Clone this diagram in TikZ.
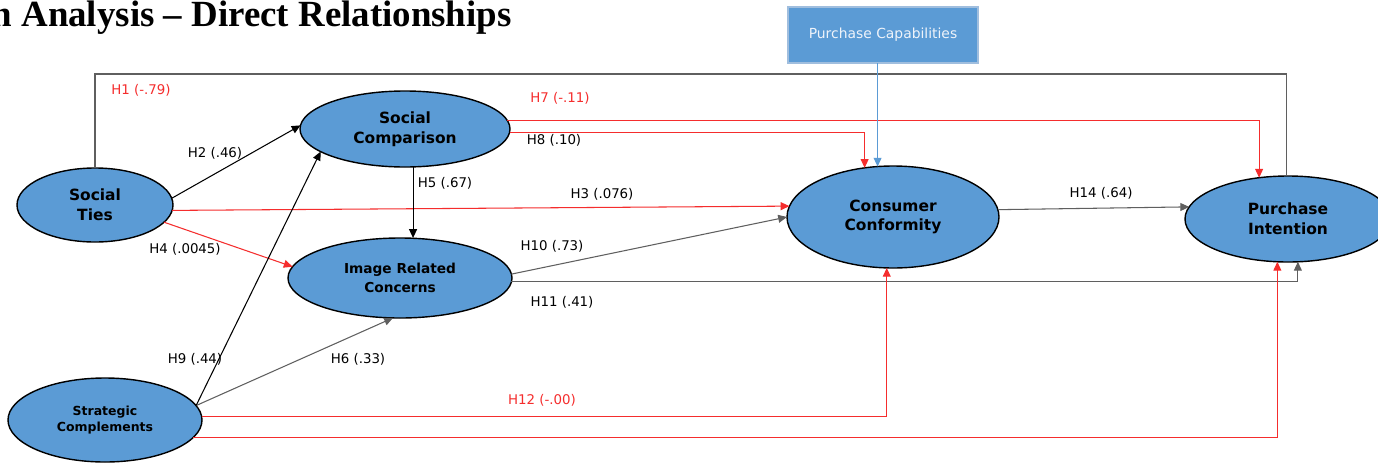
\documentclass[tikz,border=0pt]{standalone}
\usepackage{fontspec}
\setmainfont{Liberation Serif}
\newfontfamily\lblfont{DejaVu Sans}
\usetikzlibrary{arrows.meta,shapes.geometric,calc}
\definecolor{nodeblue}{RGB}{91,155,213}
\definecolor{linered}{RGB}{245,45,45}
\definecolor{linegray}{RGB}{95,95,95}
\definecolor{boxedge}{RGB}{160,190,222}
\definecolor{boxtext}{RGB}{238,243,250}

\begin{document}
\begin{tikzpicture}[x=0.02cm,y=-0.02cm,
  construct/.style={ellipse, draw=black, line width=0.8pt, fill=nodeblue,
    inner sep=0pt, outer sep=0pt, align=center,
    font=\lblfont\bfseries\fontsize{8.8}{11.3}\selectfont},
  capbox/.style={rectangle, draw=boxedge, line width=0.8pt, fill=nodeblue,
    inner sep=0pt, outer sep=0pt, text=boxtext,
    font=\lblfont\fontsize{7.9}{9}\selectfont},
  pathlbl/.style={inner sep=0pt, font=\lblfont\fontsize{7.6}{9}\selectfont},
  redlbl/.style={pathlbl, text=linered},
  tip/.style={-{Triangle[length=5pt,width=4.5pt]}},
  posline/.style={tip, draw=linegray, line width=0.6pt},
  darkline/.style={tip, draw=black, line width=0.6pt},
  negline/.style={draw=linered, line width=0.6pt,
    -{Triangle[length=5pt,width=4.5pt,fill=linered]}},
  railline/.style={draw=linegray, line width=0.6pt},
  capline/.style={draw=nodeblue, line width=0.6pt,
    -{Triangle[length=5pt,width=4.5pt,fill=nodeblue]}}
]
\useasboundingbox (0,0) rectangle (1378,463);
\fill[white] (0,0) rectangle (1378,463);

% heading
\node[anchor=base east, inner sep=0pt,
  font=\bfseries\fontsize{21}{24}\selectfont] (title) at (512,27)
  {n Analysis -- Direct Relationships};

% constructs
\node[construct, minimum width=156*0.02cm, minimum height=74*0.02cm]
  (st) at (95,205) {Social\\Ties};
\node[construct, minimum width=210*0.02cm, minimum height=76*0.02cm]
  (sc) at (405,129) {Social\\Comparison};
\node[construct, minimum width=224*0.02cm, minimum height=80*0.02cm,
  font=\lblfont\bfseries\fontsize{7.8}{11}\selectfont]
  (irc) at (400,278) {Image Related\\Concerns};
\node[construct, minimum width=212*0.02cm, minimum height=102*0.02cm]
  (cc) at (893,217) {Consumer\\Conformity};
\node[construct, minimum width=206*0.02cm, minimum height=86*0.02cm]
  (pi) at (1288,219) {Purchase\\Intention};
\node[construct, minimum width=194*0.02cm, minimum height=84*0.02cm,
  font=\lblfont\bfseries\fontsize{7.1}{9.6}\selectfont]
  (sco) at (105,420) {Strategic\\Complements};
\node[capbox, minimum width=190*0.02cm, minimum height=56*0.02cm]
  (pc) at (883,35) {Purchase Capabilities};

\coordinate (toprail) at (0,74);

% H1: social ties to purchase intention, over the top
\draw[railline] (st.north) |- (toprail -| pi.92) -- (pi.92);
% direct paths
\draw[darkline] (st.5) -- (sc.178);
\draw[negline] (st.-4) -- (cc.174);
\draw[negline] (st.-14) -- (irc.174);
\draw[darkline] (sc.-78) -- (sc.-78 |- irc.north);
\draw[posline] (sco.9) -- (irc.260);
\draw[darkline] (sco.9) -- (sc.195);
\draw[negline] (sc.5) -| (pi.125);
\draw[negline] (sc.-2) -| (cc.120);
\draw[capline] (cc.107 |- pc.south) -- (cc.107);
\draw[posline] (irc.2) -- (cc.west);
\draw[posline] (irc.-2) -| (pi.-77);
\draw[negline] (sco.2) -| (cc.263);
\draw[negline] (sco.-11) -| (pi.256);
\draw[posline] (cc.4) -- (pi.173);

% path coefficients
\node[redlbl] (l1) at (141,90) {H1 (-.79)};
\node[pathlbl] (l2) at (215,153) {H2 (.46)};
\node[pathlbl] (l3) at (602,194) {H3 (.076)};
\node[pathlbl] (l4) at (185,249) {H4 (.0045)};
\node[pathlbl] (l5) at (445,183) {H5 (.67)};
\node[pathlbl] (l6) at (358,359) {H6 (.33)};
\node[redlbl] (l7) at (560,98) {H7 (-.11)};
\node[pathlbl] (l8) at (554,140) {H8 (.10)};
\node[pathlbl] (l9) at (195,359) {H9 (.44)};
\node[pathlbl] (l10) at (552,246) {H10 (.73)};
\node[pathlbl] (l11) at (562,302) {H11 (.41)};
\node[redlbl] (l12) at (542,400) {H12 (-.00)};
\node[pathlbl] (l14) at (1101,193) {H14 (.64)};
\end{tikzpicture}
\end{document}
